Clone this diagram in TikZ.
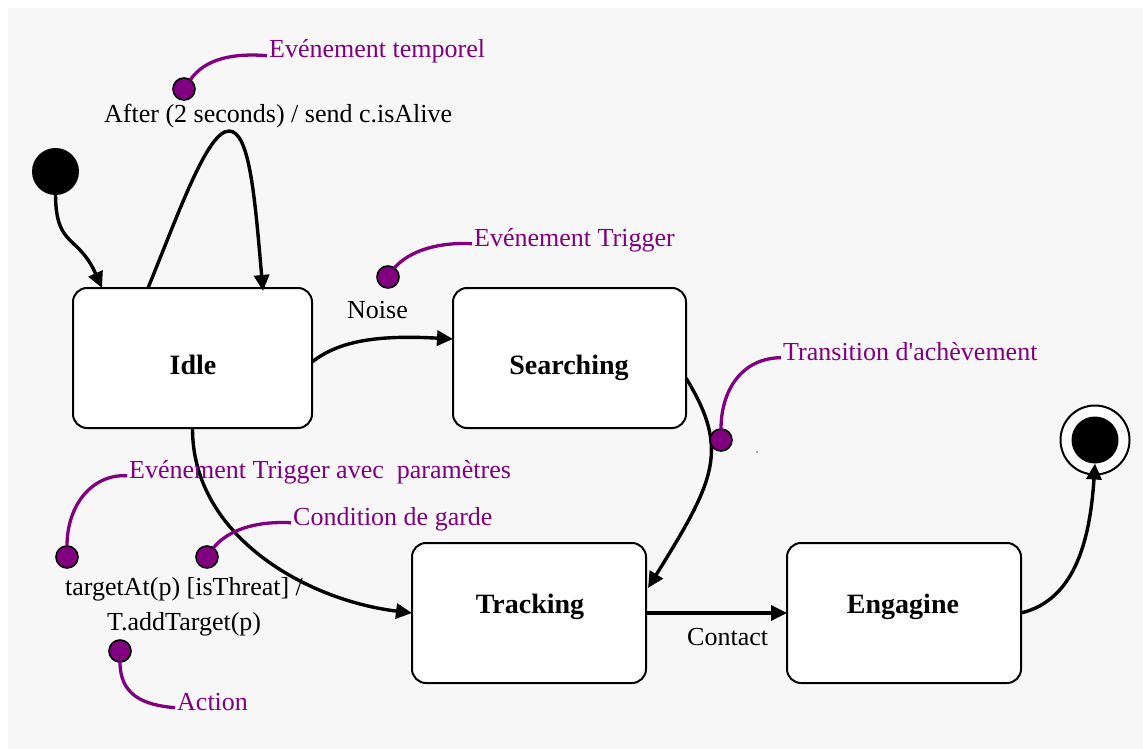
\documentclass[tikz,border=0pt]{standalone}
\usepackage{fontspec}
\setmainfont{Liberation Serif}
\usetikzlibrary{arrows.meta}
\definecolor{notecolor}{HTML}{800080}
\definecolor{canvas}{HTML}{F7F7F7}

\begin{document}
\begin{tikzpicture}[x=1pt, y=-1pt,
  state/.style={draw, line width=2pt, fill=white, rounded corners=14pt,
    minimum width=234pt, minimum height=140pt, inner sep=0pt, outer sep=0pt},
  statename/.style={font=\fontsize{28}{32}\selectfont\bfseries, inner sep=0pt, anchor=base},
  trans/.style={line width=3.4pt, -{Triangle[length=16pt, width=15pt]}},
  lbl/.style={font=\fontsize{26}{30}\selectfont, inner sep=0pt, anchor=base west},
  note/.style={lbl, text=notecolor},
  pin/.style={circle, draw=black, line width=1.6pt, fill=notecolor,
    minimum size=22pt, inner sep=0pt, outer sep=0pt},
  noteline/.style={draw=notecolor, line width=3.3pt}
]
% canvas
\useasboundingbox (0,0) rectangle (1143,749);
\fill[white] (0,0) rectangle (1143,749);
\fill[canvas] (8,8) rectangle (1143,749);

% states
\node[state, minimum width=239pt] (idle) at (192.5,358) {};
\node[state, minimum width=233pt] (searching) at (569.5,358) {};
\node[state] (tracking) at (529,613) {};
\node[state] (engagine) at (904,613) {};
\node[statename] (idle-name) at (193,374) {Idle};
\node[statename] (searching-name) at (569,374) {Searching};
\node[statename] (tracking-name) at (530,613) {Tracking};
\node[statename] (engagine-name) at (903,613) {Engagine};

% pseudo states
\node[circle, fill=black, minimum size=47pt, inner sep=0pt, outer sep=0pt] (init) at (55.5,171.5) {};
\node[circle, draw, line width=2pt, fill=white, minimum size=69pt, inner sep=0pt, outer sep=0pt] (final) at (1095,440) {};
\node[circle, fill=black, minimum size=47pt, inner sep=0pt, outer sep=0pt] (final-dot) at (1095,440) {};

% transitions
\draw[trans] (init.south) .. controls (56,248) and (78,234) .. ([xshift=-90.5pt]idle.north);
\draw[trans] ([xshift=-44.5pt]idle.north) .. controls (178,215) and (207,131) .. (229,131)
  .. controls (250,131) and (255,200) .. ([xshift=70.5pt, yshift=-3pt]idle.north);
\draw[trans] ([yshift=-4pt]idle.east) .. controls (340,340) and (380,335) .. ([yshift=19pt]searching.west);
\draw[trans] ([yshift=-20pt]searching.east) .. controls (730,450) and (715,480) .. ([xshift=2pt, yshift=25pt]tracking.east);
\draw[trans] (idle.south) .. controls (192,535) and (305,600) .. (tracking.west);
\draw[trans] (tracking.east) -- (engagine.west);
\draw[trans] (engagine.east) .. controls (1075,600) and (1090,540) .. (final-dot.south);

% transition labels
\node[lbl] (after) at (104,123) {After (2 seconds) / send c.isAlive};
\node[lbl] (noise) at (347,318) {Noise};
\node[lbl] (trigger-1) at (65,595) {targetAt(p) [isThreat] /};
\node[lbl] (trigger-2) at (107,630) {T.addTarget(p)};
\node[lbl] (contact) at (687,645) {Contact};

% annotations
\node[pin] (pin-time) at (184,89) {};
\node[pin] (pin-trigger) at (388,277) {};
\node[pin] (pin-completion) at (721,440) {};
\node[pin] (pin-param) at (67,557) {};
\node[pin] (pin-guard) at (207,557) {};
\node[pin] (pin-action) at (120,651) {};

\node[note] (note-time) at (269,58) {Evénement temporel};
\node[note] (note-trigger) at (474,246) {Evénement Trigger};
\node[note] (note-completion) at (783,360) {Transition d\textquotesingle ach\`evement};
\node[note] (note-param) at (129,478) {Evénement Trigger avec\ \ paramètres};
\node[note] (note-guard) at (293,525) {Condition de garde};
\node[note] (note-action) at (177,710) {Action};

\draw[noteline] (pin-time.55) .. controls (205,58) and (235,53) .. ([xshift=-2pt]note-time.mid west);
\draw[noteline] (pin-trigger.55) .. controls (410,250) and (440,242) .. ([xshift=-2pt]note-trigger.mid west);
\draw[noteline] (pin-completion.north) .. controls (721,390) and (742,358) .. ([xshift=-2pt]note-completion.mid west);
\draw[noteline] (pin-param.north) .. controls (67,505) and (92,474) .. ([xshift=-2pt]note-param.mid west);
\draw[noteline] (pin-guard.55) .. controls (228,530) and (255,521) .. ([xshift=-2pt]note-guard.mid west);
\draw[noteline] (pin-action.south) .. controls (120,695) and (143,705) .. ([xshift=-2pt]note-action.mid west);

% stray mark
\fill[black!60] (757,452) circle (0.9);
\end{tikzpicture}
\end{document}
